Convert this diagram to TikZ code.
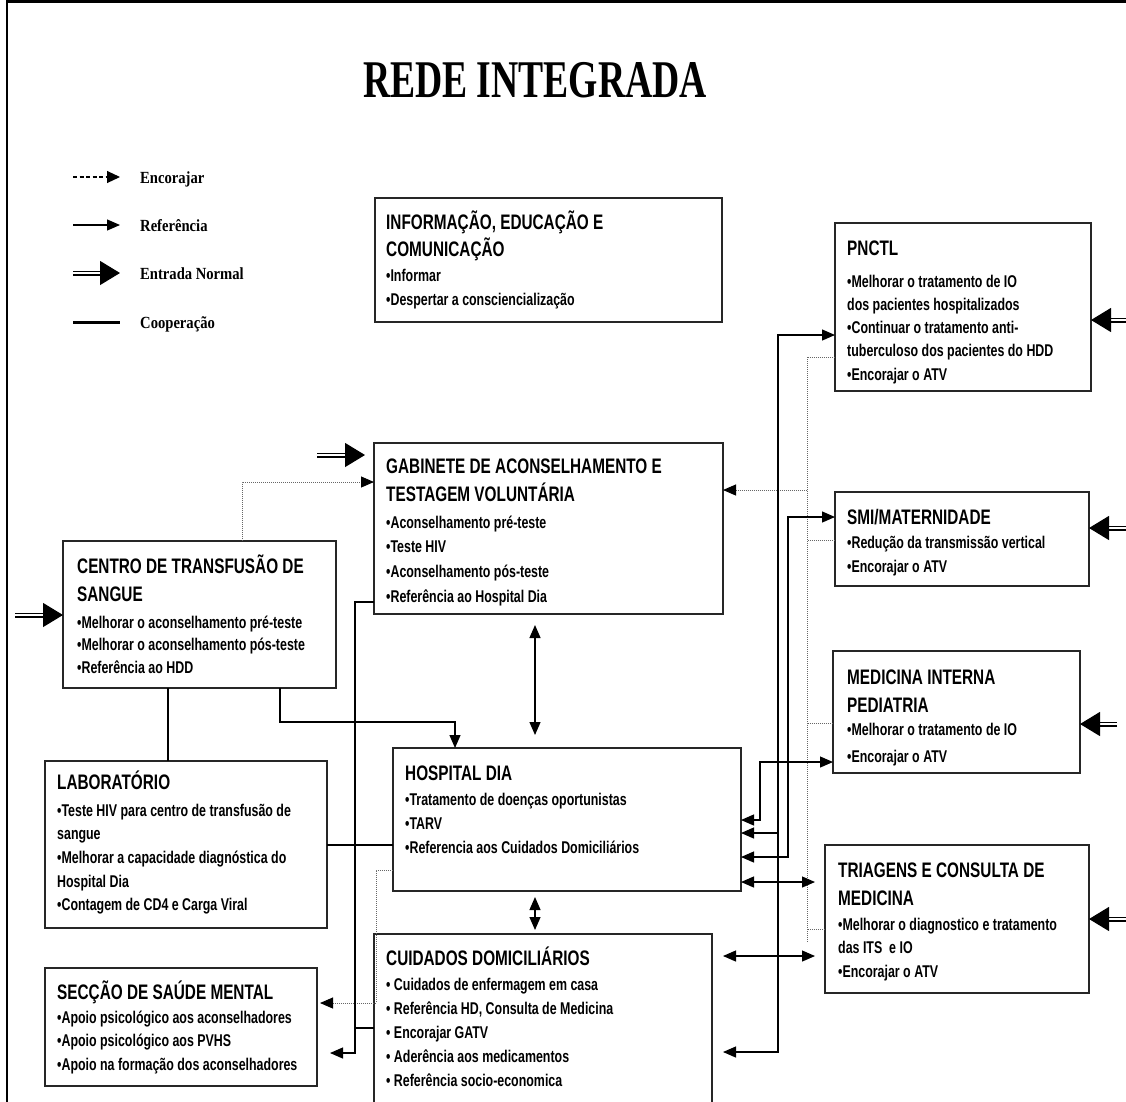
\documentclass[tikz,border=0pt]{standalone}
\usepackage{fontspec}
\usetikzlibrary{arrows.meta}
\newfontfamily\nar[FakeStretch=0.73]{Liberation Sans}
\newfontfamily\ser[FakeStretch=0.71]{Liberation Serif}
\newfontfamily\legf[FakeStretch=0.86]{Liberation Serif}
\newcommand\bx[5]{\node[box,anchor=north west,minimum width={(#4-#2)*1pt},minimum height={(#5-#3)*1pt}] (#1) at (#2,#3) {};}
\newcommand\tl[6]{\foreach \t [count=\i from 0] in {#6} {\node[#2] (#1\i) at (#3,{#4+\i*#5}) {\t};}}
\begin{document}
\begin{tikzpicture}[x=1pt,y=-1pt,
  >={Triangle[length=13pt,width=11pt]},
  box/.style={draw=black!85,line width=1.3pt,inner sep=0pt,outer sep=0pt,fill=white},
  hdr/.style={font=\nar\bfseries\fontsize{21}{24}\selectfont,anchor=base west,inner sep=0pt},
  bul/.style={font=\nar\bfseries\fontsize{17}{20}\selectfont,anchor=base west,inner sep=0pt},
  legtxt/.style={font=\legf\bfseries\fontsize{17}{20}\selectfont,anchor=base west,inner sep=0pt},
  ref/.style={draw=black,line width=1.2pt},
  coop/.style={draw=black,line width=1.2pt},
  enc/.style={draw=black!60,line width=1pt,densely dotted,>={Triangle[length=13pt,width=11pt,color=black]}},
  entry/.style={draw=black,double,double distance=2.6pt,line width=1.2pt,-{Triangle[length=20pt,width=24pt]}}]
\useasboundingbox (0,0) rectangle (1126,1101);
\clip (0,0) rectangle (1126,1101);
\fill[white] (0,0) rectangle (1126,1101);
% frame
\draw[line width=2.5pt] (7,1110) -- (7,1.3) -- (1130,1.3);
% title
\node[font=\ser\bfseries\fontsize{53}{60}\selectfont,anchor=base,inner sep=0pt] (title) at (535,97) {REDE INTEGRADA};
% legend
\coordinate (l1a) at (73,177); \coordinate (l1b) at (120,177);
\coordinate (l2a) at (73,225); \coordinate (l2b) at (120,225);
\coordinate (l3a) at (73,273); \coordinate (l3b) at (120,273);
\coordinate (l4a) at (73,322); \coordinate (l4b) at (120,322);
\draw[black,line width=1.1pt,dash pattern=on 4pt off 2.5pt,-{Triangle[length=13pt,width=12pt]}] (l1a) -- (l1b);
\draw[ref,->] (l2a) -- (l2b);
\draw[entry] (l3a) -- (l3b);
\draw[black,line width=3pt] (l4a) -- (l4b);
\node[legtxt] (lg1) at (140,183) {Encorajar};
\node[legtxt] (lg2) at (140,231) {Referência};
\node[legtxt] (lg3) at (140,279) {Entrada Normal};
\node[legtxt] (lg4) at (140,328) {Cooperação};
% boxes
\bx{iec}{375}{198}{722}{322}
\bx{pnctl}{835}{223}{1091}{391}
\bx{gatv}{374}{443}{723}{614}
\bx{smi}{835}{492}{1089}{586}
\bx{cts}{63}{541}{336}{688}
\bx{medint}{833}{651}{1080}{773}
\bx{lab}{45}{761}{327}{928}
\bx{hdia}{393}{748}{741}{891}
\bx{triag}{825}{845}{1089}{993}
\bx{smental}{45}{968}{317}{1086}
\bx{cuid}{374}{934}{712}{1130}
% texts
\tl{iech}{hdr}{386}{229}{27}{{INFORMAÇÃO, EDUCAÇÃO E},{COMUNICAÇÃO}}
\tl{iecb}{bul}{386}{281}{24}{{•Informar},{•Despertar a consciencialização}}
\tl{pnh}{hdr}{847}{255}{0}{{PNCTL}}
\tl{pnb}{bul}{847}{287}{23.3}{{•Melhorar o tratamento de IO},{dos pacientes hospitalizados},{•Continuar o tratamento anti-},{tuberculoso dos pacientes do HDD},{•Encorajar o ATV}}
\tl{gah}{hdr}{386}{473}{28}{{GABINETE DE ACONSELHAMENTO E},{TESTAGEM VOLUNTÁRIA}}
\tl{gab}{bul}{386}{528}{24.7}{{•Aconselhamento pré-teste},{•Teste HIV},{•Aconselhamento pós-teste},{•Referência ao Hospital Dia}}
\tl{smh}{hdr}{847}{524}{0}{{SMI/MATERNIDADE}}
\tl{smb}{bul}{847}{548}{24}{{•Redução da transmissão vertical},{•Encorajar o ATV}}
\tl{cth}{hdr}{77}{573}{28}{{CENTRO DE TRANSFUSÃO DE},{SANGUE}}
\tl{ctb}{bul}{77}{628}{22.5}{{•Melhorar o aconselhamento pré-teste},{•Melhorar o aconselhamento pós-teste},{•Referência ao HDD}}
\tl{mih}{hdr}{847}{684}{28}{{MEDICINA INTERNA},{PEDIATRIA}}
\tl{mib}{bul}{847}{735}{27}{{•Melhorar o tratamento de IO},{•Encorajar o ATV}}
\tl{lbh}{hdr}{57}{789}{0}{{LABORATÓRIO}}
\tl{lbb}{bul}{57}{816}{23.7}{{•Teste HIV para centro de transfusão de},{sangue},{•Melhorar a capacidade diagnóstica do},{Hospital Dia},{•Contagem de CD4 e Carga Viral}}
\tl{hdh}{hdr}{405}{780}{0}{{HOSPITAL DIA}}
\tl{hdb}{bul}{405}{805}{24}{{•Tratamento de doenças oportunistas},{•TARV},{•Referencia aos Cuidados Domiciliários}}
\tl{trh}{hdr}{838}{877}{28}{{TRIAGENS E CONSULTA DE},{MEDICINA}}
\tl{trb}{bul}{838}{930}{23.5}{{•Melhorar o diagnostico e tratamento},{das ITS\ \ e IO},{•Encorajar o ATV}}
\tl{mnh}{hdr}{57}{999}{0}{{SECÇÃO DE SAÚDE MENTAL}}
\tl{mnb}{bul}{57}{1023}{23.5}{{•Apoio psicológico aos aconselhadores},{•Apoio psicológico aos PVHS},{•Apoio na formação dos aconselhadores}}
\tl{cdh}{hdr}{386}{965}{0}{{CUIDADOS DOMICILIÁRIOS}}
\tl{cdb}{bul}{386}{990}{24}{{• Cuidados de enfermagem em casa},{• Referência HD, Consulta de Medicina},{• Encorajar GATV},{• Aderência aos medicamentos},{• Referência socio-economica}}
% entrada normal
\coordinate (en1) at (1128,320); \draw[entry] (en1) -- (pnctl.east |- en1);
\coordinate (en2) at (1128,528); \draw[entry] (en2) -- (smi.east |- en2);
\coordinate (en3) at (1117,724); \draw[entry] (en3) -- (medint.east |- en3);
\coordinate (en4) at (1128,919); \draw[entry] (en4) -- (triag.east |- en4);
\coordinate (en5) at (317,455); \draw[entry,shorten >=9pt] (en5) -- (gatv.west |- en5);
\coordinate (en6) at (15,615); \draw[entry] (en6) -- (cts.west |- en6);
% encorajar (dotted)
\coordinate (bus) at (807,490);
\draw[enc,->] (cts.north -| 242,0) |- (gatv.west |- 0,482);
\draw[enc] (pnctl.west |- 0,357) -| (807,942);
\draw[enc] (smi.west |- 0,540) -- (807,540);
\draw[enc] (medint.west |- 0,723) -- (807,723);
\draw[enc] (triag.west |- 0,929) -- (807,929);
\draw[enc,->] (bus) -- (gatv.east |- bus);
\draw[enc,->,shorten >=3pt] (hdia.west |- 0,870) -| (376,1003) -- (smental.east |- 0,1003);
% referencia
\draw[ref,->,shorten >=13pt] (gatv.west |- 0,602) -| (355,1053) -- (smental.east |- 0,1053);
\draw[ref] (cuid.west |- 0,1028) -- (355,1028);
\draw[ref,->] (cts.south -| 280,0) |- (455,722) -- (hdia.north -| 455,0);
\draw[ref,<->] (hdia.east |- 0,833) -| (778,335) -- (pnctl.west |- 0,335);
\draw[ref,->,shorten >=11pt] (778,833) |- (cuid.east |- 0,1052);
\draw[ref,<->] (hdia.east |- 0,857) -| (788,517) -- (smi.west |- 0,517);
\draw[ref,<->] (hdia.east |- 0,820) -| (760,762) -- (medint.west |- 0,762);
\draw[ref,<->,shorten >=10pt] (hdia.east |- 0,882) -- (triag.west |- 0,882);
\draw[ref,<->,shorten <=11pt,shorten >=10pt] (cuid.east |- 0,956) -- (triag.west |- 0,956);
\draw[ref,<->,shorten <=11pt,shorten >=13pt] (gatv.south -| 535,0) -- (hdia.north -| 535,0);
\draw[ref,<->,shorten <=6pt,shorten >=4pt] (hdia.south -| 535,0) -- (cuid.north -| 535,0);
% cooperacao
\draw[coop] (cts.south -| 168,0) -- (lab.north -| 168,0);
\draw[coop] (lab.east |- 0,845) -- (hdia.west |- 0,845);
\end{tikzpicture}
\end{document}
